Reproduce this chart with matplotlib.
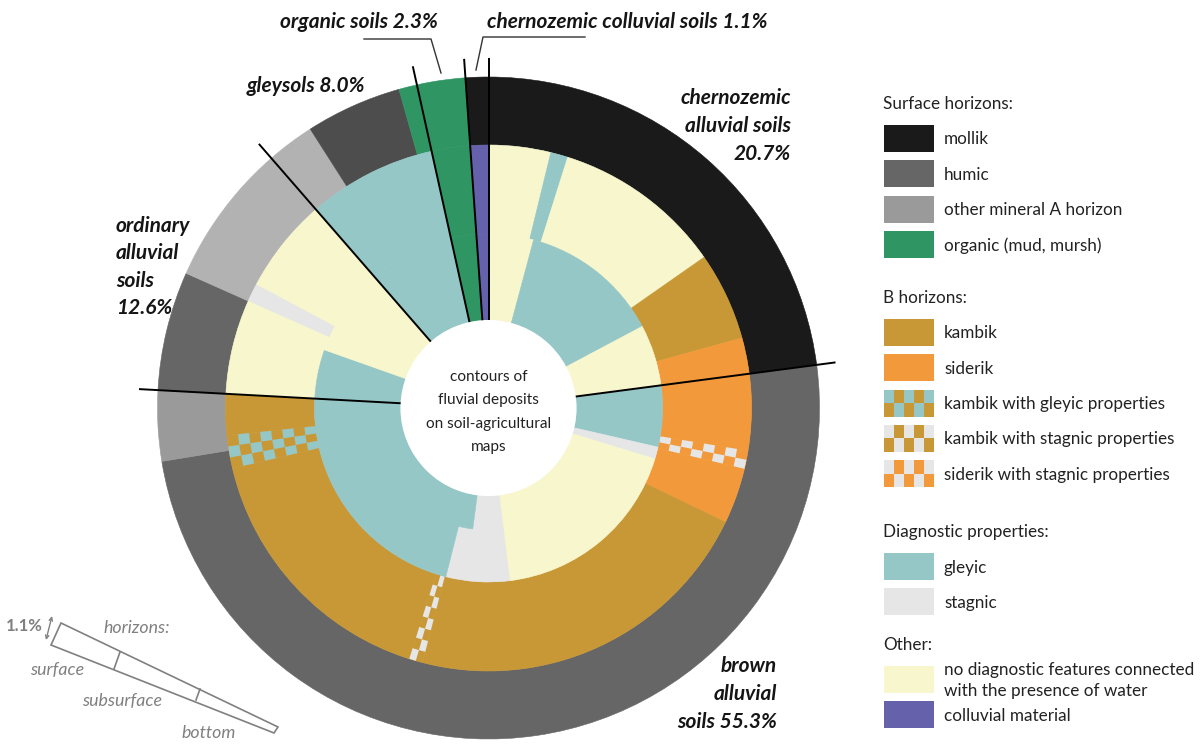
import matplotlib
matplotlib.use('Agg')
import matplotlib.pyplot as plt
from matplotlib.patches import Wedge, Rectangle, Polygon
import numpy as np

# horizon classes and their colours
colors = {
    'mollik': '#1a1a1a',
    'humic': '#666666',
    'mineral': '#9a9a9a',
    'mineral_light': '#b2b2b2',
    'humic_dark': '#4d4d4d',
    'organic': '#2e9563',
    'kambik': '#c89836',
    'siderik': '#f29a3b',
    'gleyic': '#96c7c7',
    'stagnic': '#e6e6e6',
    'none': '#f7f6cc',
    'colluvial': '#6561ab',
}
# checkered classes: (base, spots)
checkers = {
    'kambik_gley': ('kambik', 'gleyic'),
    'kambik_stag': ('kambik', 'stagnic'),
    'siderik_stag': ('siderik', 'stagnic'),
}

# soil groups, clockwise from 12 o'clock (share of the circle as drawn, %)
group_names = ['chernozemic alluvial soils', 'brown alluvial soils', 'ordinary alluvial soils',
               'gleysols', 'organic soils', 'chernozemic colluvial soils']
group_share = [22.92, 52.94, 12.75, 7.92, 2.36, 1.11]

# surface horizons (outer ring)
outer_keys = ['mollik', 'humic', 'mineral', 'humic', 'mineral_light', 'humic_dark', 'organic', 'mollik']
outer_share = [22.92, 49.5, 3.44, 5.81, 9.28, 4.69, 3.25, 1.11]

# subsurface horizons (middle ring)
middle_keys = ['none', 'gleyic', 'none', 'kambik', 'siderik', 'siderik_stag', 'siderik', 'kambik',
               'kambik_stag', 'kambik', 'kambik_gley', 'kambik', 'none', 'stagnic', 'none',
               'gleyic', 'organic', 'colluvial']
middle_share = [3.81, 1.06, 10.42, 5.42, 6.89, 1.11, 3.44, 21.89, 0.83, 16.44, 2.03, 2.53,
                5.83, 1.11, 5.81, 7.92, 2.36, 1.11]

# bottom horizons (inner ring)
inner_keys = ['none', 'gleyic', 'none', 'gleyic', 'stagnic', 'none', 'stagnic', 'gleyic', 'none',
              'gleyic', 'organic', 'colluvial']
inner_share = [4.17, 13.06, 5.69, 5.69, 1.11, 18.33, 5.89, 26.47, 8.19, 7.92, 2.36, 1.11]
# small gleyic step inside the stagnic wedge of the inner ring (start %, size %)
step_start, step_share = 52.06, 1.89

legend_groups = [
    ('Surface horizons:', [('mollik', 'mollik'), ('humic', 'humic'),
                           ('mineral', 'other mineral A horizon'), ('organic', 'organic (mud, mursh)')]),
    ('B horizons:', [('kambik', 'kambik'), ('siderik', 'siderik'),
                     ('kambik_gley', 'kambik with gleyic properties'),
                     ('kambik_stag', 'kambik with stagnic properties'),
                     ('siderik_stag', 'siderik with stagnic properties')]),
    ('Diagnostic properties:', [('gleyic', 'gleyic'), ('stagnic', 'stagnic')]),
    ('Other:', [('none', 'no diagnostic features connected\nwith the presence of water'),
                ('colluvial', 'colluvial material')]),
]
legend_title_y = [104, 298, 532, 645]

plt.rcParams['font.family'] = ['Lato', 'DejaVu Sans']

W, H = 1203, 744
fig = plt.figure(figsize=(W / 100, H / 100), dpi=100)
ax = fig.add_axes([0, 0, 1, 1])

cx, cy = 488.5, 408
r0, r1, r2, r3 = 88, 174, 263, 331


def col(k):
    return colors[checkers[k][0]] if k in checkers else colors[k]


def ring(keys, share, r_out, r_in):
    wedges, _ = ax.pie(share, colors=[col(k) for k in keys], radius=r_out, center=(cx, cy),
                       startangle=-90, counterclock=True,
                       wedgeprops=dict(width=r_out - r_in, linewidth=0.4))
    for w in wedges:
        w.set_edgecolor(w.get_facecolor())
    # checkered wedges
    start = 0
    for k, s in zip(keys, share):
        if k in checkers:
            base, spot = checkers[k]
            a0, a1 = start * 3.6, (start + s) * 3.6
            arc = np.deg2rad(a1 - a0) * (r_out + r_in) / 2
            na = max(2, int(round(arc / 10)))
            nr = 8
            ea = np.linspace(a0, a1, na + 1)
            er = np.linspace(r_in, r_out, nr + 1)
            for i in range(na):
                for j in range(nr):
                    if (i + j) % 2 == 0:
                        ax.add_patch(Wedge((cx, cy), er[j + 1], ea[i] - 90, ea[i + 1] - 90,
                                           width=er[j + 1] - er[j], facecolor=colors[spot],
                                           edgecolor='none'))
        start += s


ring(outer_keys, outer_share, r3, r2)
ring(middle_keys, middle_share, r2, r1)
ring(inner_keys, inner_share, r1, r0)
ax.add_patch(Wedge((cx, cy), 122, step_start * 3.6 - 90, (step_start + step_share) * 3.6 - 90,
                   width=122 - r0, facecolor=colors['gleyic'], edgecolor=colors['gleyic'], linewidth=0.4))

# white hole in the middle
ax.add_patch(plt.Circle((cx, cy), r0, facecolor='white', edgecolor='none'))
ax.text(cx, cy + 4, 'contours of\nfluvial deposits\non soil-agricultural\nmaps', ha='center', va='center',
        fontsize=11.1, color='#222222', linespacing=1.82)

# dividing lines between soil groups
bounds = np.cumsum([0] + group_share[:-1])
for b in bounds:
    t = np.deg2rad(b * 3.6)
    ax.plot([cx + r0 * np.sin(t), cx + 350 * np.sin(t)],
            [cy - r0 * np.cos(t), cy - 350 * np.cos(t)], color='black', lw=1.4, solid_capstyle='butt')

# group labels
lab = dict(fontsize=15, fontweight='bold', style='italic', color='#151515')
ax.text(438, 22, 'organic soils 2.3%', ha='right', va='center', **lab)
ax.text(487, 22, 'chernozemic colluvial soils 1.1%', ha='left', va='center', **lab)
ax.text(365, 86, 'gleysols 8.0%', ha='right', va='center', **lab)
ax.text(791, 126, 'chernozemic\nalluvial soils\n20.7%', ha='right', va='center', linespacing=1.47, **lab)
ax.text(116, 267, 'ordinary\nalluvial\nsoils\n12.6%', ha='left', va='center', linespacing=1.47, **lab)
ax.text(777, 694, 'brown\nalluvial\nsoils 55.3%', ha='right', va='center', linespacing=1.47, **lab)
ax.plot([364, 431, 441], [39, 39, 73], color='#333333', lw=1)
ax.plot([585, 483, 476], [37, 37, 70], color='#333333', lw=1)

# legend
for (title, items), ty in zip(legend_groups, legend_title_y):
    ax.text(883, ty, title, ha='left', va='center', fontsize=12.3, color='#222222')
    y = ty + 21
    for k, name in items:
        x0, w, h = 884, 50, 27
        ax.add_patch(Rectangle((x0, y), w, h, facecolor=col(k), edgecolor='none'))
        if k in checkers:
            base, spot = checkers[k]
            cw = w / 5
            for i in range(5):
                for j in range(2):
                    if (i + j) % 2 == 0:
                        ax.add_patch(Rectangle((x0 + i * cw, y + j * h / 2), cw, h / 2,
                                               facecolor=colors[spot], edgecolor='none'))
        ax.text(944, y + h / 2 + 1, name, ha='left', va='center', fontsize=12.3, color='#222222',
                linespacing=1.45)
        y += 35.3

# sketch of one sector
grey = '#808080'
ax.add_patch(Polygon([(61, 623), (278, 727), (274, 733), (51, 645)], closed=True,
                     facecolor='white', edgecolor=grey, lw=1.2))
ax.plot([120, 114], [652, 669], color=grey, lw=1.2)
ax.plot([200, 196], [689, 700], color=grey, lw=1.2)
ax.annotate('', xy=(52, 616), xytext=(46, 640),
            arrowprops=dict(arrowstyle='<->', color=grey, lw=1, mutation_scale=6, shrinkA=0, shrinkB=0))
sk = dict(fontsize=12.8, style='italic', color=grey, va='center', ha='center')
ax.text(43, 626, '1.1%', fontsize=12, fontweight='bold', color=grey, va='center', ha='right')
ax.text(137, 628, 'horizons:', **sk)
ax.text(57, 670, 'surface', **sk)
ax.text(122, 701, 'subsurface', **sk)
ax.text(209, 733, 'bottom', **sk)

ax.set_aspect('auto')
ax.set_xlim(0, W)
ax.set_ylim(H, 0)
ax.axis('off')
fig.savefig('out.png', dpi=100, facecolor='white')
